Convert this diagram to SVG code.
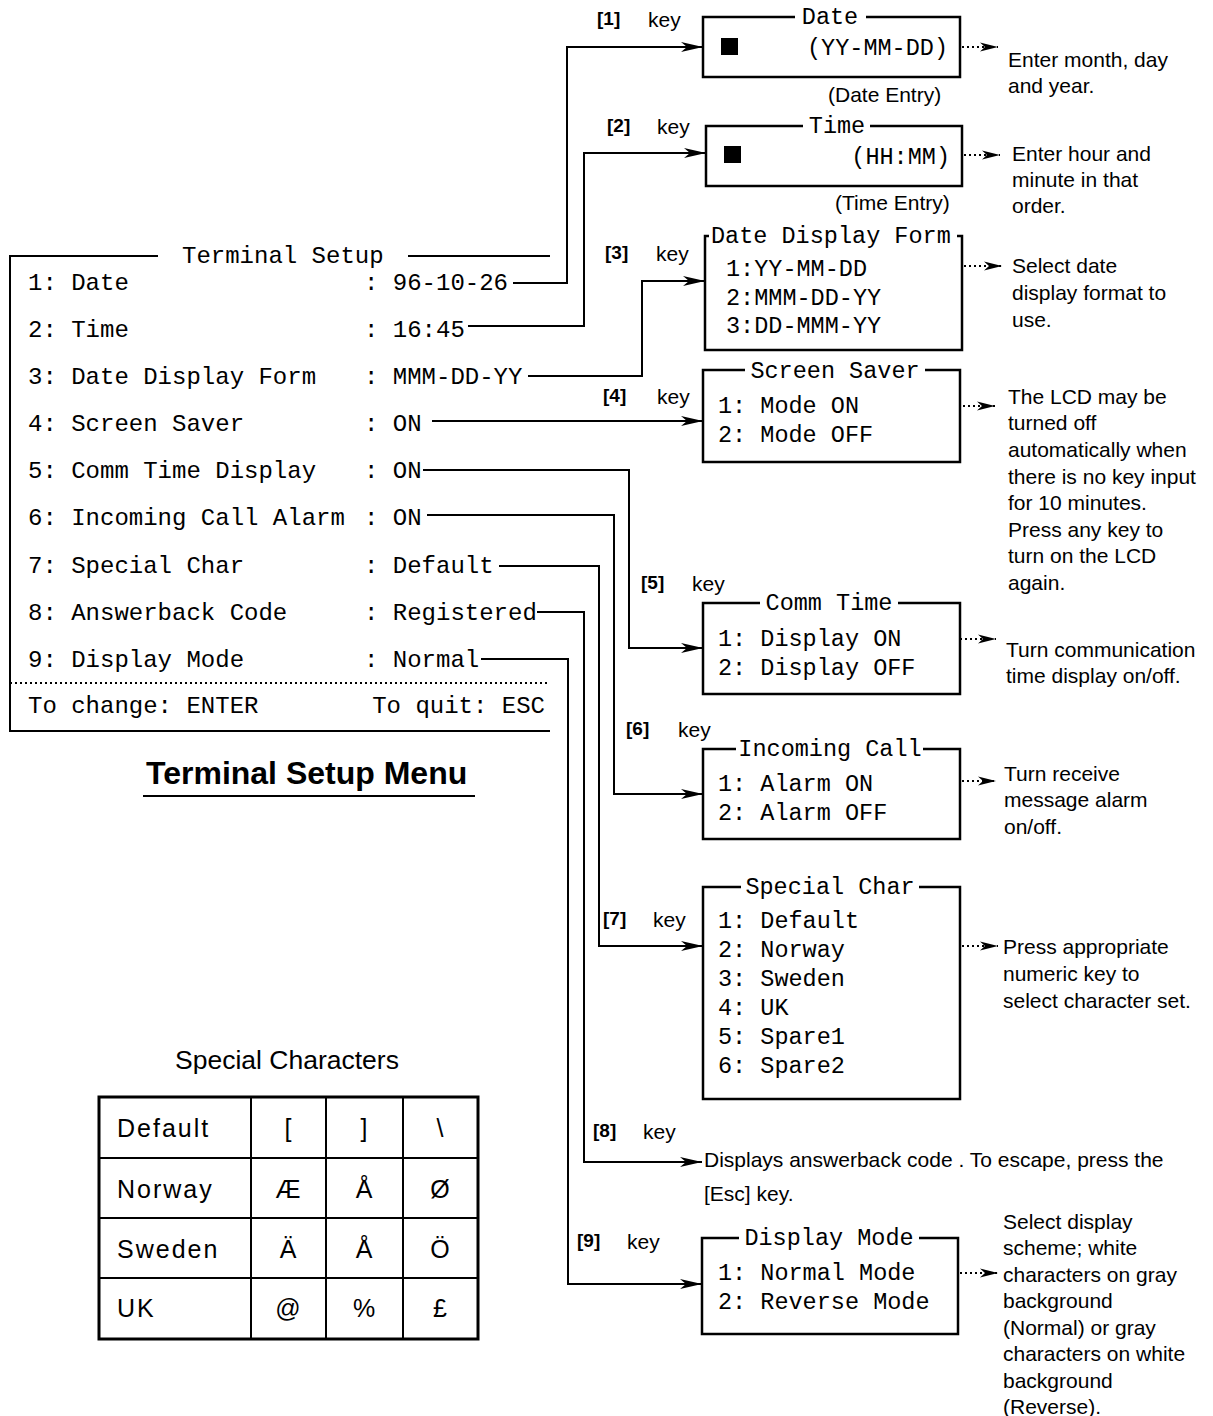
<svg xmlns="http://www.w3.org/2000/svg" width="1213" height="1416" viewBox="0 0 1213 1416">
<style>
.mono{font-family:"Liberation Mono","Courier New",monospace;font-size:24px;fill:#000}
.bm{font-family:"Liberation Mono","Courier New",monospace;font-size:23.5px;fill:#000}
.sans{font-family:"Liberation Sans",Arial,sans-serif;font-size:21px;fill:#000}
.kb{font-family:"Liberation Sans",Arial,sans-serif;font-size:19px;font-weight:bold;fill:#000}
.tb{font-family:"Liberation Sans",Arial,sans-serif;font-size:25px;letter-spacing:2px;fill:#000}
.ts{font-family:"Liberation Sans",Arial,sans-serif;font-size:25px;fill:#000;text-anchor:middle}
.box{fill:#fff;stroke:#000;stroke-width:2.5}
.gap{fill:#fff;stroke:none}
.con{fill:none;stroke:#000;stroke-width:2}
.dot{fill:none;stroke:#000;stroke-width:1.8;stroke-dasharray:2 3}
.mid{text-anchor:middle}
.end{text-anchor:end}
</style>
<defs>
<marker id="ah" markerUnits="userSpaceOnUse" markerWidth="22" markerHeight="12" refX="22" refY="6" orient="auto">
<path d="M0,1 L22,6 L0,11 L6,6 Z" fill="#000"/>
</marker>
<marker id="dh" markerUnits="userSpaceOnUse" markerWidth="18" markerHeight="12" refX="18" refY="6" orient="auto">
<path d="M0,1.5 L18,6 L0,10.5 L5,6 Z" fill="#000"/>
</marker>
</defs>

<g id="terminal-setup">
<path d="M158,256 H10 V731 H550 M408,256 H550" class="con"/>
<line x1="10" y1="683" x2="550" y2="683" class="dot"/>
<text x="182" y="263" class="mono">Terminal Setup</text>
<text x="28" y="290" class="mono">1: Date</text><text x="364" y="290" class="mono">: 96-10-26</text>
<text x="28" y="337" class="mono">2: Time</text><text x="364" y="337" class="mono">: 16:45</text>
<text x="28" y="384" class="mono">3: Date Display Form</text><text x="364" y="384" class="mono">: MMM-DD-YY</text>
<text x="28" y="431" class="mono">4: Screen Saver</text><text x="364" y="431" class="mono">: ON</text>
<text x="28" y="478" class="mono">5: Comm Time Display</text><text x="364" y="478" class="mono">: ON</text>
<text x="28" y="525" class="mono">6: Incoming Call Alarm</text><text x="364" y="525" class="mono">: ON</text>
<text x="28" y="573" class="mono">7: Special Char</text><text x="364" y="573" class="mono">: Default</text>
<text x="28" y="620" class="mono">8: Answerback Code</text><text x="364" y="620" class="mono">: Registered</text>
<text x="28" y="667" class="mono">9: Display Mode</text><text x="364" y="667" class="mono">: Normal</text>
<text x="28" y="713" class="mono">To change: ENTER</text>
<text x="545" y="713" class="mono end">To quit: ESC</text>
</g>

<g id="menu-title">
<text x="146" y="784" font-family="Liberation Sans, Arial, sans-serif" font-size="32" font-weight="bold">Terminal Setup Menu</text>
<line x1="143" y1="796" x2="475" y2="796" stroke="#000" stroke-width="2"/>
</g>

<g id="connectors">
<path d="M513,283 H567 V47 H703" class="con" marker-end="url(#ah)"/>
<path d="M468,326 H584 V153 H706" class="con" marker-end="url(#ah)"/>
<path d="M528,376 H642 V281 H705" class="con" marker-end="url(#ah)"/>
<path d="M432,421 H703" class="con" marker-end="url(#ah)"/>
<path d="M423,470 H629 V648 H703" class="con" marker-end="url(#ah)"/>
<path d="M427,515 H614 V794 H703" class="con" marker-end="url(#ah)"/>
<path d="M499,566 H599 V946 H703" class="con" marker-end="url(#ah)"/>
<path d="M537,612 H584 V1162 H702" class="con" marker-end="url(#ah)"/>
<path d="M481,659 H568 V1284 H702" class="con" marker-end="url(#ah)"/>
<line x1="962" y1="47" x2="998" y2="47" class="dot" marker-end="url(#dh)"/>
<line x1="964" y1="155" x2="1000" y2="155" class="dot" marker-end="url(#dh)"/>
<line x1="964" y1="266" x2="1002" y2="266" class="dot" marker-end="url(#dh)"/>
<line x1="868" y1="406" x2="995" y2="406" class="dot" marker-end="url(#dh)"/>
<line x1="915" y1="639" x2="996" y2="639" class="dot" marker-end="url(#dh)"/>
<line x1="887" y1="781" x2="996" y2="781" class="dot" marker-end="url(#dh)"/>
<line x1="962" y1="946" x2="998" y2="946" class="dot" marker-end="url(#dh)"/>
<line x1="960" y1="1273" x2="998" y2="1273" class="dot" marker-end="url(#dh)"/>
</g>

<g id="date-box">
<rect x="703" y="17" width="257" height="60" class="box"/>
<rect x="795" y="12" width="71" height="10" class="gap"/>
<text x="830" y="24" class="bm mid">Date</text>
<rect x="721" y="38" width="17" height="17" fill="#000"/>
<text x="948" y="55" class="bm end">(YY-MM-DD)</text>
<text x="828" y="102" class="sans">(Date Entry)</text>
<text x="597" y="25" class="kb">[1]</text><text x="648" y="27" class="sans">key</text>
<text x="1008" y="67" class="sans">Enter month, day</text>
<text x="1008" y="93" class="sans">and year.</text>
</g>

<g id="time-box">
<rect x="706" y="126" width="256" height="60" class="box"/>
<rect x="803" y="121" width="67" height="10" class="gap"/>
<text x="837" y="133" class="bm mid">Time</text>
<rect x="724" y="146" width="17" height="17" fill="#000"/>
<text x="950" y="164" class="bm end">(HH:MM)</text>
<text x="835" y="210" class="sans">(Time Entry)</text>
<text x="607" y="132" class="kb">[2]</text><text x="657" y="134" class="sans">key</text>
<text x="1012" y="161" class="sans">Enter hour and</text>
<text x="1012" y="187" class="sans">minute in that</text>
<text x="1012" y="213" class="sans">order.</text>
</g>

<g id="date-form-box">
<rect x="705" y="236" width="257" height="114" class="box"/>
<rect x="709" y="231" width="248" height="10" class="gap"/>
<text x="711" y="243" class="bm">Date Display Form</text>
<text x="726" y="276" class="bm">1:YY-MM-DD</text>
<text x="726" y="305" class="bm">2:MMM-DD-YY</text>
<text x="726" y="333" class="bm">3:DD-MMM-YY</text>
<text x="605" y="259" class="kb">[3]</text><text x="656" y="261" class="sans">key</text>
<text x="1012" y="273" class="sans">Select date</text>
<text x="1012" y="300" class="sans">display format to</text>
<text x="1012" y="327" class="sans">use.</text>
</g>

<g id="screen-saver-box">
<rect x="703" y="370" width="257" height="92" class="box"/>
<rect x="745" y="365" width="180" height="10" class="gap"/>
<text x="835" y="378" class="bm mid">Screen Saver</text>
<text x="718" y="413" class="bm">1: Mode ON</text>
<text x="718" y="442" class="bm">2: Mode OFF</text>
<text x="603" y="402" class="kb">[4]</text><text x="657" y="404" class="sans">key</text>
<text x="1008" y="404" class="sans">The LCD may be</text>
<text x="1008" y="430" class="sans">turned off</text>
<text x="1008" y="457" class="sans">automatically when</text>
<text x="1008" y="484" class="sans">there is no key input</text>
<text x="1008" y="510" class="sans">for 10 minutes.</text>
<text x="1008" y="537" class="sans">Press any key to</text>
<text x="1008" y="563" class="sans">turn on the LCD</text>
<text x="1008" y="590" class="sans">again.</text>
</g>

<g id="comm-time-box">
<rect x="703" y="603" width="257" height="91" class="box"/>
<rect x="760" y="598" width="138" height="10" class="gap"/>
<text x="829" y="610" class="bm mid">Comm Time</text>
<text x="718" y="646" class="bm">1: Display ON</text>
<text x="718" y="675" class="bm">2: Display OFF</text>
<text x="641" y="589" class="kb">[5]</text><text x="692" y="591" class="sans">key</text>
<text x="1006" y="657" class="sans">Turn communication</text>
<text x="1006" y="683" class="sans">time display on/off.</text>
</g>

<g id="incoming-call-box">
<rect x="703" y="749" width="257" height="90" class="box"/>
<rect x="736" y="744" width="187" height="10" class="gap"/>
<text x="830" y="756" class="bm mid">Incoming Call</text>
<text x="718" y="791" class="bm">1: Alarm ON</text>
<text x="718" y="820" class="bm">2: Alarm OFF</text>
<text x="626" y="735" class="kb">[6]</text><text x="678" y="737" class="sans">key</text>
<text x="1004" y="781" class="sans">Turn receive</text>
<text x="1004" y="807" class="sans">message alarm</text>
<text x="1004" y="834" class="sans">on/off.</text>
</g>

<g id="special-char-box">
<rect x="703" y="887" width="257" height="212" class="box"/>
<rect x="741" y="882" width="178" height="10" class="gap"/>
<text x="830" y="894" class="bm mid">Special Char</text>
<text x="718" y="928" class="bm">1: Default</text>
<text x="718" y="957" class="bm">2: Norway</text>
<text x="718" y="986" class="bm">3: Sweden</text>
<text x="718" y="1015" class="bm">4: UK</text>
<text x="718" y="1044" class="bm">5: Spare1</text>
<text x="718" y="1073" class="bm">6: Spare2</text>
<text x="603" y="925" class="kb">[7]</text><text x="653" y="927" class="sans">key</text>
<text x="1003" y="954" class="sans">Press appropriate</text>
<text x="1003" y="981" class="sans">numeric key to</text>
<text x="1003" y="1008" class="sans">select character set.</text>
</g>

<g id="answerback">
<text x="593" y="1137" class="kb">[8]</text><text x="643" y="1139" class="sans">key</text>
<text x="704" y="1167" class="sans">Displays answerback code . To escape, press the</text>
<text x="704" y="1201" class="sans">[Esc] key.</text>
</g>

<g id="display-mode-box">
<rect x="702" y="1238" width="256" height="96" class="box"/>
<rect x="739" y="1233" width="180" height="10" class="gap"/>
<text x="829" y="1245" class="bm mid">Display Mode</text>
<text x="718" y="1280" class="bm">1: Normal Mode</text>
<text x="718" y="1309" class="bm">2: Reverse Mode</text>
<text x="577" y="1247" class="kb">[9]</text><text x="627" y="1249" class="sans">key</text>
<text x="1003" y="1229" class="sans">Select display</text>
<text x="1003" y="1255" class="sans">scheme; white</text>
<text x="1003" y="1282" class="sans">characters on gray</text>
<text x="1003" y="1308" class="sans">background</text>
<text x="1003" y="1335" class="sans">(Normal) or gray</text>
<text x="1003" y="1361" class="sans">characters on white</text>
<text x="1003" y="1388" class="sans">background</text>
<text x="1003" y="1414" class="sans">(Reverse).</text>
</g>

<g id="special-characters-table">
<text x="175" y="1069" font-family="Liberation Sans, Arial, sans-serif" font-size="26.5">Special Characters</text>
<rect x="99" y="1097" width="379" height="242" fill="none" stroke="#000" stroke-width="3"/>
<path d="M251,1097 V1339 M326,1097 V1339 M403,1097 V1339 M99,1158 H478 M99,1218 H478 M99,1278 H478" fill="none" stroke="#000" stroke-width="2"/>
<text x="117" y="1137" class="tb">Default</text>
<text x="117" y="1198" class="tb">Norway</text>
<text x="117" y="1258" class="tb">Sweden</text>
<text x="117" y="1317" class="tb">UK</text>
<text x="288" y="1137" class="ts">[</text><text x="364" y="1137" class="ts">]</text><text x="440" y="1137" class="ts">\</text>
<text x="288" y="1198" class="ts">Æ</text><text x="364" y="1198" class="ts">Å</text><text x="440" y="1198" class="ts">Ø</text>
<text x="288" y="1258" class="ts">Ä</text><text x="364" y="1258" class="ts">Å</text><text x="440" y="1258" class="ts">Ö</text>
<text x="288" y="1317" class="ts">@</text><text x="364" y="1317" class="ts">%</text><text x="440" y="1317" class="ts">£</text>
</g>
</svg>
